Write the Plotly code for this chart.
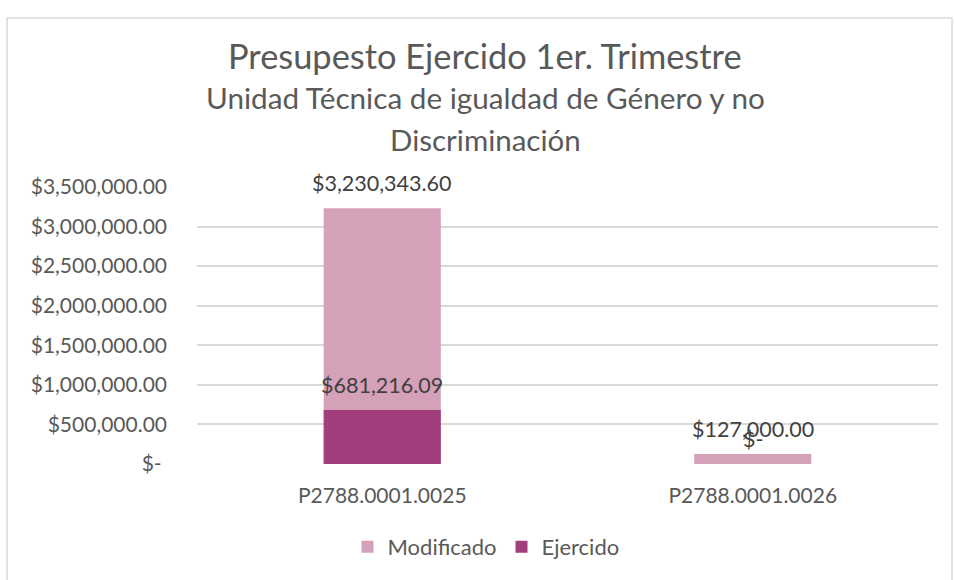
import plotly.graph_objects as go

# ---- data ----
categories = ["P2788.0001.0025", "P2788.0001.0026"]
modificado = [3230343.60, 127000.00]
ejercido = [681216.09, 0.0]
series_names = ["Modificado", "Ejercido"]
y_tickvals = [0, 500000, 1000000, 1500000, 2000000, 2500000, 3000000, 3500000]
y_ticktext = ["$-\u00a0", "$500,000.00", "$1,000,000.00", "$1,500,000.00",
              "$2,000,000.00", "$2,500,000.00", "$3,000,000.00", "$3,500,000.00"]
title_lines = ["Presupesto Ejercido 1er. Trimestre",
               "Unidad Técnica de igualdad de Género y no",
               "Discriminación"]

# ---- style ----
W, H = 954, 580
ML, MR, MT, MB = 197, 16, 187, 116
PW, PH = W - ML - MR, H - MT - MB
FONT = "Lato"
C_MOD = "#D4A1B8"
C_EJE = "#A33E7D"
GRID = "#D9D9D9"
TXT = "#595959"
LBL = "#404040"


def px_x(x):
    return (x - ML) / PW


def px_y(y):
    return (H - MB - y) / PH


def money(v):
    return "$-" if v == 0 else "${:,.2f}".format(v)


fig = go.Figure()
fig.add_trace(go.Bar(x=categories, y=modificado, name=series_names[0],
                     marker=dict(color=C_MOD, line=dict(width=0)), hoverinfo="skip"))
fig.add_trace(go.Bar(x=categories, y=ejercido, name=series_names[1],
                     marker=dict(color=C_EJE, line=dict(width=0)), hoverinfo="skip"))

annotations = []
for series in (modificado, ejercido):
    for c, v in zip(categories, series):
        annotations.append(dict(x=c, y=v, xref="x", yref="y", text=money(v),
                                showarrow=False, yshift=25,
                                font=dict(family=FONT, size=21.5, color=LBL)))

title_specs = [(title_lines[0], 56, 34.4), (title_lines[1], 97, 29.7), (title_lines[2], 139, 29.5)]
for t, ypix, size in title_specs:
    annotations.append(dict(x=px_x(485), y=px_y(ypix), xref="paper", yref="paper",
                            text=t, showarrow=False, xanchor="center", yanchor="middle",
                            font=dict(family=FONT, size=size, color=TXT)))

fig.update_layout(
    width=W, height=H,
    margin=dict(l=ML, r=MR, t=MT, b=MB, pad=0),
    paper_bgcolor="white", plot_bgcolor="white",
    barmode="overlay", bargap=0.684,
    font=dict(family=FONT, size=21, color=TXT),
    showlegend=True,
    legend=dict(orientation="h", x=px_x(486), xanchor="center",
                y=px_y(547), yanchor="middle",
                font=dict(family=FONT, size=22, color=TXT),
                itemwidth=30, traceorder="normal"),
    annotations=annotations,
    shapes=[dict(type="rect", xref="paper", yref="paper",
                 x0=px_x(7), x1=px_x(952), y0=px_y(600), y1=px_y(18),
                 line=dict(color=GRID, width=1.5), fillcolor="rgba(0,0,0,0)", layer="below")],
)
fig.update_yaxes(range=[0, 3500000], tickvals=y_tickvals, ticktext=y_ticktext,
                 showgrid=True, gridcolor=GRID, gridwidth=1.5, zeroline=False,
                 showline=False, ticks="", ticklabelstandoff=29,
                 tickfont=dict(family=FONT, size=21, color=TXT))
fig.update_xaxes(showgrid=False, zeroline=False, showline=False, ticks="",
                 ticklabelstandoff=17,
                 tickfont=dict(family=FONT, size=21, color=TXT))

fig.write_html("out.html")
